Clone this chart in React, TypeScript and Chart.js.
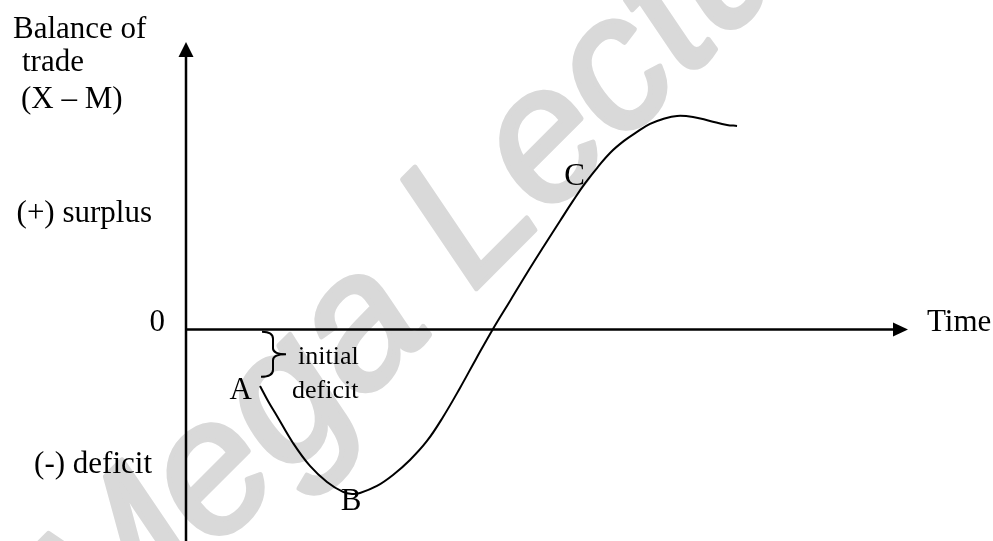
import React, { useEffect, useRef } from "react";
import { Chart, registerables } from "chart.js";

Chart.register(...registerables);

// ---- data (time, balance of trade) ----
const timeValues = [
  10.25, 11.36, 12.6, 14.82, 17.17, 19.53, 21.75, 23.0, 24.1, 26.45, 28.67, 31.02, 33.38,
  35.6, 37.95, 40.17, 42.52, 44.88, 47.23, 49.58, 51.8, 53.6, 55.26, 57.06, 58.73, 60.66,
  62.47, 64.27, 66.07, 68.01, 70.22, 72.58, 74.93, 76.32,
];
const balanceValues = [
  -19.66, -24.88, -30.1, -39.49, -47.49, -53.06, -56.54, -57.24, -56.89, -54.45, -50.63,
  -45.41, -38.8, -30.45, -20.35, -10.26, 0.17, 9.92, 19.66, 29.05, 37.75, 44.71, 50.8,
  56.54, 61.41, 65.59, 68.72, 71.5, 73.24, 74.29, 73.94, 72.55, 71.16, 70.81,
];

const xMin = 0;
const xMax = 100;
const yMin = -73.6;
const yMax = 100;

const yTickValues = [40.5, 0, -46.8];
const yTickLabels = ["(+) surplus", "0", "(-) deficit"];
const yAxisTitle = ["Balance of", "trade", "(X \u2013 M)"];
const xAxisTitle = "Time";

const pointLabels = ["A", "B", "C"];
const pointLabelIndex = [0, 7, 22];

const braceTime = 12.05;
const braceFrom = -0.8;
const braceTo = -16.5;
const braceLabel = ["initial", "deficit"];

const watermark = "Mega Lecture";

const SERIF = '"Liberation Serif", "Times New Roman", serif';

const overlayPlugin = {
  id: "overlay",
  beforeDraw(chart: any) {
    const ctx = chart.ctx as CanvasRenderingContext2D;
    ctx.save();
    ctx.fillStyle = "#ffffff";
    ctx.fillRect(0, 0, chart.width, chart.height);
    const F = 188;
    ctx.font = `italic ${F}px "Liberation Sans", Arial, sans-serif`;
    ctx.fillStyle = "#d9d9d9";
    ctx.strokeStyle = "#d9d9d9";
    ctx.lineWidth = 5;
    ctx.lineJoin = "round";
    ctx.textBaseline = "alphabetic";
    ctx.textAlign = "left";
    ctx.translate(482, 283);
    ctx.rotate(-0.785);
    const w = ctx.measureText("Mega ").width;
    const x0 = -(w + 0.073 * F);
    ctx.fillText(watermark, x0, 0);
    ctx.strokeText(watermark, x0, 0);
    ctx.restore();
  },
  afterDatasetsDraw(chart: any) {
    const ctx = chart.ctx as CanvasRenderingContext2D;
    const xs = chart.scales.x;
    const ys = chart.scales.y;
    const ax = xs.getPixelForValue(0);
    const ay = ys.getPixelForValue(0);
    const top = ys.getPixelForValue(yMax);
    const bottom = ys.getPixelForValue(yMin);
    const right = xs.getPixelForValue(xMax);

    ctx.save();
    ctx.strokeStyle = "#000";
    ctx.fillStyle = "#000";
    ctx.lineWidth = 2.5;
    ctx.lineCap = "butt";

    // y axis
    ctx.beginPath();
    ctx.moveTo(ax, bottom);
    ctx.lineTo(ax, top + 14);
    ctx.stroke();
    ctx.beginPath();
    ctx.moveTo(ax, top);
    ctx.lineTo(ax - 7.5, top + 15);
    ctx.lineTo(ax + 7.5, top + 15);
    ctx.closePath();
    ctx.fill();

    // x axis
    ctx.beginPath();
    ctx.moveTo(ax, ay);
    ctx.lineTo(right - 14, ay);
    ctx.stroke();
    ctx.beginPath();
    ctx.moveTo(right, ay);
    ctx.lineTo(right - 15, ay - 7);
    ctx.lineTo(right - 15, ay + 7);
    ctx.closePath();
    ctx.fill();

    // brace
    const bx = xs.getPixelForValue(braceTime);
    const by1 = ys.getPixelForValue(braceFrom);
    const by2 = ys.getPixelForValue(braceTo);
    const bm = (by1 + by2) / 2;
    ctx.lineWidth = 2;
    ctx.beginPath();
    ctx.moveTo(bx - 11, by1);
    ctx.quadraticCurveTo(bx, by1, bx, by1 + 7);
    ctx.lineTo(bx, bm - 6);
    ctx.quadraticCurveTo(bx, bm, bx + 13, bm);
    ctx.moveTo(bx + 13, bm);
    ctx.quadraticCurveTo(bx, bm, bx, bm + 6);
    ctx.lineTo(bx, by2 - 7);
    ctx.quadraticCurveTo(bx, by2, bx - 12, by2);
    ctx.stroke();

    // brace label
    ctx.font = `26px ${SERIF}`;
    ctx.textAlign = "left";
    ctx.textBaseline = "alphabetic";
    ctx.fillText(braceLabel[0], bx + 25, bm + 10);
    ctx.fillText(braceLabel[1], bx + 19, by2 + 21);

    // point labels
    ctx.font = `31px ${SERIF}`;
    pointLabelIndex.forEach((idx, i) => {
      const px = xs.getPixelForValue(timeValues[idx]);
      const py = ys.getPixelForValue(balanceValues[idx]);
      if (i === 0) {
        ctx.textAlign = "right";
        ctx.fillText(pointLabels[i], px - 8, py + 13);
      } else if (i === 1) {
        ctx.textAlign = "center";
        ctx.fillText(pointLabels[i], px - 1, py + 16);
      } else {
        ctx.textAlign = "right";
        ctx.fillText(pointLabels[i], px, py + 2);
      }
    });

    // y tick labels
    ctx.font = `31px ${SERIF}`;
    ctx.textAlign = "right";
    yTickValues.forEach((v, i) => {
      const py = ys.getPixelForValue(v);
      if (v === 0) {
        ctx.fillText(yTickLabels[i], ax - 21, py + 2);
      } else {
        ctx.fillText(yTickLabels[i], ax - 34, py + 9);
      }
    });

    // y axis title
    ctx.textAlign = "left";
    ctx.fillText(yAxisTitle[0], 13, 38);
    ctx.fillText(yAxisTitle[1], 22, 71);
    ctx.fillText(yAxisTitle[2], 21, 108);

    // x axis title
    ctx.fillText(xAxisTitle, right + 19, ay + 2);

    ctx.restore();
  },
};

export default function App() {
  const canvasRef = useRef<HTMLCanvasElement | null>(null);

  useEffect(() => {
    const canvas = canvasRef.current;
    if (!canvas) return;
    const chart = new Chart(canvas, {
      type: "line",
      data: {
        datasets: [
          {
            data: timeValues.map((t, i) => ({ x: t, y: balanceValues[i] })),
            borderColor: "#000",
            borderWidth: 2,
            pointRadius: 0,
            fill: false,
            tension: 0.4,
          } as any,
        ],
      },
      options: {
        responsive: false,
        devicePixelRatio: 1,
        animation: false,
        layout: { padding: { left: 186, right: 85, top: 42, bottom: 0 } },
        scales: {
          x: { type: "linear", min: xMin, max: xMax, display: false },
          y: { type: "linear", min: yMin, max: yMax, display: false },
        },
        plugins: {
          legend: { display: false },
          tooltip: { enabled: false },
          title: { display: false },
        },
        events: [],
      },
      plugins: [overlayPlugin],
    });
    return () => chart.destroy();
  }, []);

  return (
    <div style={{ position: "absolute", left: 0, top: 0, width: 993, height: 541, background: "#fff" }}>
      <canvas ref={canvasRef} width={993} height={541} style={{ display: "block" }} />
    </div>
  );
}
